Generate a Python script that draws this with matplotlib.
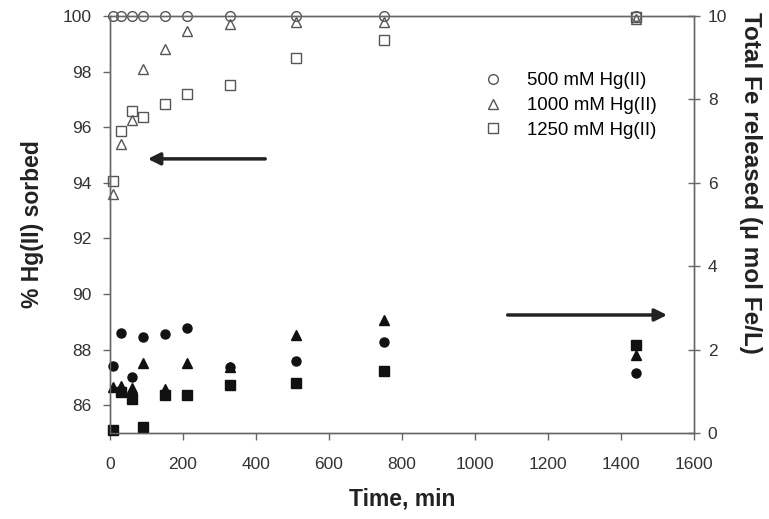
import matplotlib
matplotlib.use('Agg')
import matplotlib.pyplot as plt

plt.rcParams['font.family'] = ['Liberation Sans', 'DejaVu Sans']

# sampling times (min)
time_min = [8, 30, 60, 90, 150, 210, 330, 510, 750, 1440]

# % Hg(II) sorbed (open symbols, left axis)
pct_500 = [100, 100, 100, 100, 100, 100, 100, 100, 100, 100]
pct_1000 = [93.6, 95.4, 96.25, 98.1, 98.8, 99.45, 99.7, 99.8, 99.8, 99.9]
pct_1250 = [94.05, 95.85, 96.6, 96.35, 96.85, 97.2, 97.5, 98.5, 99.15, 99.95]

# total Fe released, umol/L (filled symbols, right axis)
fe_500 = [1.61, 2.39, 1.35, 2.31, 2.37, 2.51, 1.58, 1.73, 2.19, 1.43]
fe_1000 = [1.10, 1.13, 1.07, 1.67, 1.05, 1.67, 1.58, 2.35, 2.71, 1.87]
fe_1250 = [0.06, 0.99, 0.81, 0.14, 0.91, 0.91, 1.15, 1.21, 1.49, 2.11]

labels = ['500 mM Hg(II)', '1000 mM Hg(II)', '1250 mM Hg(II)']

edge = '#555555'
spine_c = '#666666'
txt_c = '#333333'

fig = plt.figure(figsize=(7.69, 5.19), dpi=100)
ax = fig.add_axes([0.1430, 0.1657, 0.7594, 0.8035])
ax2 = ax.twinx()

ax.plot(time_min, pct_500, 'o', ms=7, mfc='none', mec=edge, mew=1.0, clip_on=False, label=labels[0])
ax.plot(time_min, pct_1000, '^', ms=7, mfc='none', mec=edge, mew=1.0, clip_on=False, label=labels[1])
ax.plot(time_min, pct_1250, 's', ms=6.5, mfc='none', mec=edge, mew=1.0, clip_on=False, label=labels[2])

ax2.plot(time_min, fe_500, 'o', ms=6.5, color='#111111', clip_on=False)
ax2.plot(time_min, fe_1000, '^', ms=7, color='#111111', clip_on=False)
ax2.plot(time_min, fe_1250, 's', ms=6.5, color='#111111', clip_on=False)

ax.set_xlim(0, 1600)
ax.set_ylim(85, 100)
ax2.set_ylim(0, 10)
ax.set_xticks(range(0, 1601, 200))
ax.set_yticks(range(86, 101, 2))
ax2.set_yticks(range(0, 11, 2))

for a in (ax, ax2):
    for s in a.spines.values():
        s.set_color(spine_c)
        s.set_linewidth(1.0)
ax.tick_params(axis='x', direction='out', length=5, width=1, color=spine_c,
               labelsize=12.5, labelcolor=txt_c, pad=12.5)
ax.tick_params(axis='y', direction='out', length=5, width=1, color=spine_c,
               labelsize=12.5, labelcolor=txt_c, pad=8)
ax2.tick_params(axis='y', direction='inout', length=8, width=1, color=spine_c,
                labelsize=12.5, labelcolor=txt_c, pad=6)

ax.set_xlabel('Time, min', fontsize=16.5, fontweight='bold', color='#222222')
ax.xaxis.set_label_coords(0.5, -0.13)
ax.set_ylabel('% Hg(II) sorbed', fontsize=16.5, fontweight='bold', color='#222222')
ax.yaxis.set_label_coords(-0.113, 0.5)
ax2.set_ylabel('Total Fe released (\u03bc mol Fe/L)', fontsize=17.5, fontweight='bold',
               color='#222222', rotation=270, va='center')
ax2.yaxis.set_label_coords(1.096, 0.60)

# arrows pointing to the relevant axis
ax.annotate('', xy=(96, 94.86), xytext=(433, 94.86),
            arrowprops=dict(arrowstyle='-|>', lw=2.5, color='#222222', mutation_scale=18))
ax2.annotate('', xy=(1534, 2.83), xytext=(1082, 2.83),
             arrowprops=dict(arrowstyle='-|>', lw=2.5, color='#222222', mutation_scale=18))

ax.legend(loc='upper left', bbox_to_anchor=(0.627, 0.883), frameon=False, fontsize=13.4,
          handletextpad=1.35, labelspacing=0.42, handlelength=1.0, borderaxespad=0)

fig.savefig('out.png', dpi=100)
